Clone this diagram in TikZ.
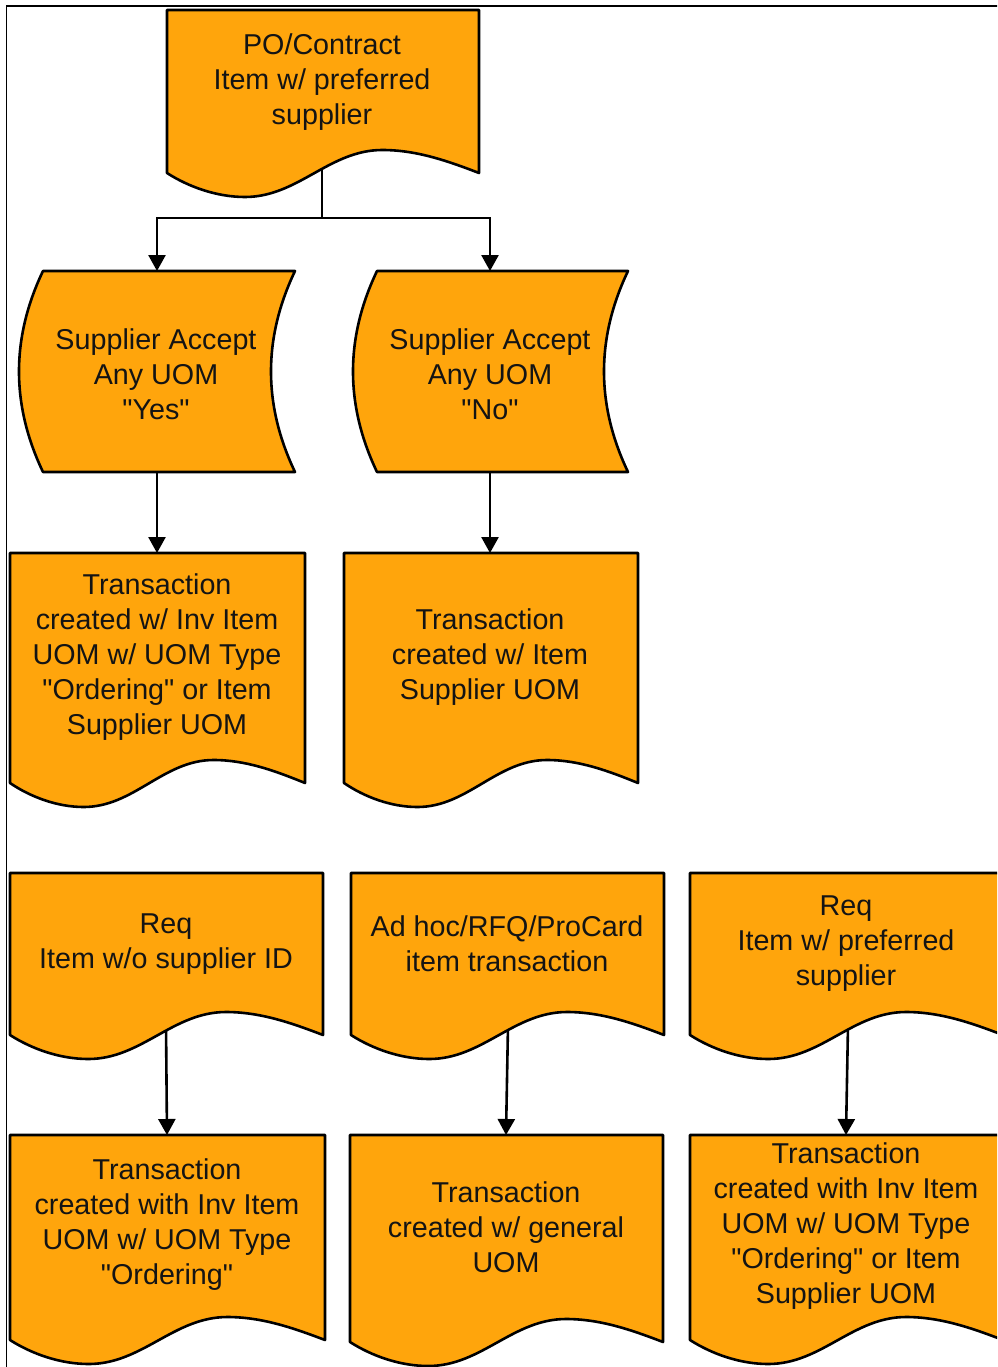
\documentclass[tikz,border=0pt]{standalone}
\usepackage{fontspec}
\setmainfont{Liberation Sans}[Ligatures=TeXOff]
\usetikzlibrary{arrows.meta}
\definecolor{boxfill}{RGB}{255,165,12}
\newcommand\qq[1]{\char34\relax #1\char34\relax}
\newcommand\docshape[4]{%
  \pgfmathsetmacro\wW{#3-#1}%
  \pgfmathsetmacro\xa{#1+0.07*\wW}\pgfmathsetmacro\xb{#1+0.16*\wW}%
  \pgfmathsetmacro\xc{#1+0.25*\wW}\pgfmathsetmacro\xd{#1+0.42*\wW}%
  \pgfmathsetmacro\xe{#1+0.52*\wW}\pgfmathsetmacro\xf{#1+0.69*\wW}%
  \pgfmathsetmacro\xg{#1+0.80*\wW}\pgfmathsetmacro\xh{#1+0.90*\wW}%
  \pgfmathsetmacro\ya{#4+14}\pgfmathsetmacro\yt{#4+24}%
  \pgfmathsetmacro\yc{#4-23}\pgfmathsetmacro\yh{#4-12}%
  \draw[shp] (#1,#2) -- (#3,#2) -- (#3,#4)
    .. controls (\xh,\yh) and (\xg,\yc) .. (\xf,\yc)
    .. controls (\xe,\yc) and (\xd,\yt) .. (\xc,\yt)
    .. controls (\xb,\yt) and (\xa,\ya) .. (#1,#4) -- cycle;}
\newcommand\storeshape[4]{%
  \pgfmathsetmacro\sLx{#1-32}%
  \pgfmathsetmacro\sRx{#2-32}%
  \pgfmathsetmacro\sTy{#3+(#4-#3)/3}%
  \pgfmathsetmacro\sBy{#4-(#4-#3)/3}%
  \draw[shp] (#1,#3) -- (#2,#3) .. controls (\sRx,\sTy) and (\sRx,\sBy) .. (#2,#4) -- (#1,#4) .. controls (\sLx,\sBy) and (\sLx,\sTy) .. (#1,#3) -- cycle;}
\begin{document}
\begin{tikzpicture}[x=1pt,y=-1pt,
  shp/.style={draw=black, fill=boxfill, line width=2.6pt, line join=round},
  lbl/.style={align=center, font=\fontsize{28.7}{35}\selectfont, inner sep=0pt, text=black!92},
  conn/.style={line width=2.6pt},
  arr/.style={conn, -{Triangle[length=16pt,width=17pt]}}]
\useasboundingbox (0,0) rectangle (997,1367);
\begin{scope}
\clip (0,0) rectangle (997,1367);
% frame
\draw[line width=1.6pt] (6.5,1370) -- (6.5,6) -- (1000,6);
% connector coordinates
\coordinate (s1b) at (322,165);
\coordinate (s1j) at (322,218);
\coordinate (s2t) at (157,271);
\coordinate (s3t) at (490,271);
\coordinate (s2b) at (157,462);
\coordinate (s3b) at (490,462);
\coordinate (s4t) at (157,553);
\coordinate (s5t) at (490,553);
\coordinate (s6b) at (166,1025);
\coordinate (s7b) at (508,1025);
\coordinate (s8b) at (848,1025);
\coordinate (s9t) at (167,1135);
\coordinate (s10t) at (506,1135);
\coordinate (s11t) at (846,1135);
% connectors
\draw[arr] (s1b) -- (s1j) -| (s2t);
\draw[arr] (s1j) -| (s3t);
\draw[arr] (s2b) -- (s4t);
\draw[arr] (s3b) -- (s5t);
\draw[arr] (s6b) -- (s9t);
\draw[arr] (s7b) -- (s10t);
\draw[arr] (s8b) -- (s11t);
% shapes
\docshape{167}{10}{479}{173}
\storeshape{43}{295}{271}{472}
\storeshape{377}{628}{271}{472}
\docshape{10}{553}{305}{783}
\docshape{344}{553}{638}{783}
\docshape{10}{873}{323}{1035}
\docshape{351}{873}{664}{1035}
\docshape{690}{873}{1003}{1035}
\docshape{10}{1135}{325}{1340}
\docshape{350}{1135}{663}{1342}
\docshape{690}{1135}{1003}{1340}
% texts
\node[lbl] (t1) at (322,82) {PO/Contract\\Item w/ preferred\\supplier};
\node[lbl] (t2) at (156,374) {Supplier Accept\\Any UOM\\\qq{Yes}};
\node[lbl] (t3) at (490,374) {Supplier Accept\\Any UOM\\\qq{No}};
\node[lbl] (t4) at (157,657) {Transaction\\created w/ Inv Item\\UOM w/ UOM Type\\\qq{Ordering} or Item\\Supplier UOM};
\node[lbl] (t5) at (490,657) {Transaction\\created w/ Item\\Supplier UOM};
\node[lbl] (t6) at (166,944) {Req\\Item w/o supplier ID};
\node[lbl] (t7) at (507,944) {Ad hoc/RFQ/ProCard\\item transaction};
\node[lbl] (t8) at (846,944) {Req\\Item w/ preferred\\supplier};
\node[lbl] (t9) at (167,1225) {Transaction\\created with Inv Item\\UOM w/ UOM Type\\\qq{Ordering}};
\node[lbl] (t10) at (506,1227) {Transaction\\created w/ general\\UOM};
\node[lbl] (t11) at (846,1226) {Transaction\\created with Inv Item\\UOM w/ UOM Type\\\qq{Ordering} or Item\\Supplier UOM};
\end{scope}
\end{tikzpicture}
\end{document}
